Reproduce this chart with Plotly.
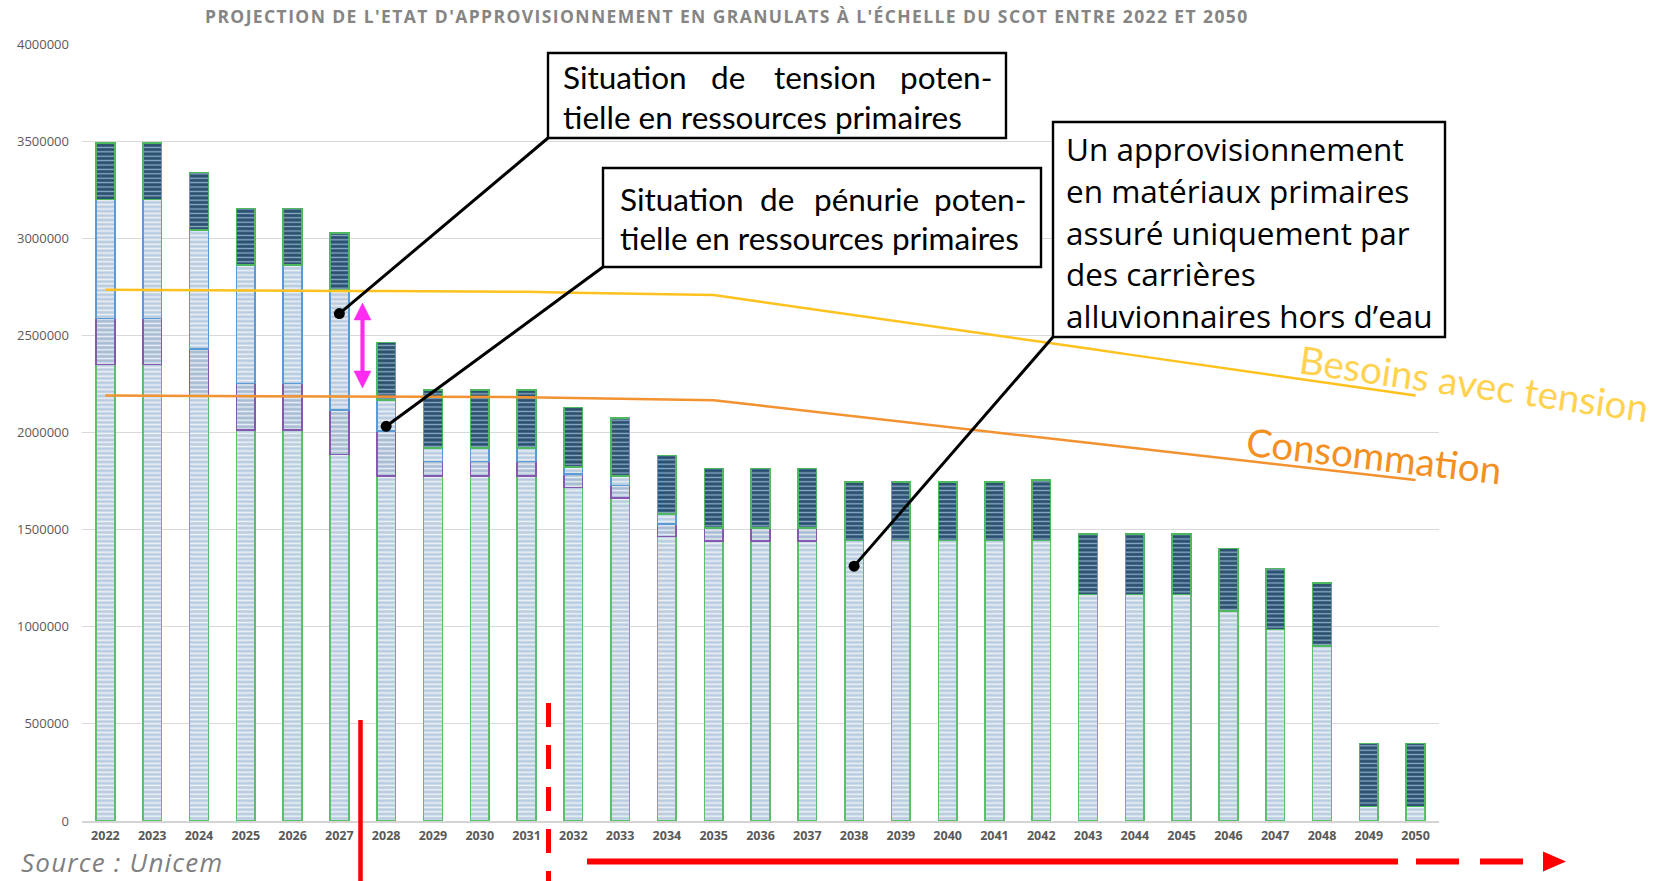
import plotly.graph_objects as go

# ---- données (t/an) -------------------------------------------------------
annees = ["2022", "2023", "2024", "2025", "2026", "2027", "2028", "2029", "2030", "2031",
          "2032", "2033", "2034", "2035", "2036", "2037", "2038", "2039", "2040", "2041",
          "2042", "2043", "2044", "2045", "2046", "2047", "2048", "2049", "2050"]

carrieres_hors_eau = [2350000, 2350000, 2190000, 2012000, 2012000, 1887000, 1777000, 1777000,
                      1777000, 1777000, 1716000, 1662000, 1464000, 1442000, 1442000, 1442000,
                      1445000, 1445000, 1445000, 1445000, 1445000, 1167000, 1167000, 1167000,
                      1082000, 985000, 902000, 74000, 74000]
carrieres_en_eau = [237000, 237000, 240000, 240000, 240000, 230000, 232000, 73000, 73000, 73000,
                    69000, 65000, 65000, 67000, 67000, 67000, 0, 0, 0, 0, 0, 0, 0, 0, 0, 0, 0, 0, 0]
roches_massives = [612000, 612000, 614000, 610000, 610000, 617000, 159000, 69000, 69000, 69000,
                   36000, 50000, 53000, 0, 0, 0, 0, 0, 0, 0, 0, 0, 0, 0, 0, 0, 0, 0, 0]
recyclage = [292000, 292000, 295000, 292000, 292000, 292000, 296000, 299000, 299000, 299000,
             308000, 299000, 300000, 305000, 305000, 305000, 300000, 300000, 300000, 300000,
             309000, 310000, 310000, 310000, 321000, 315000, 323000, 326000, 326000]

besoins_tension = [2735000, 2733000, 2732000, 2731000, 2730000, 2729000, 2728000, 2727000,
                   2726000, 2724000, 2720000, 2716000, 2712000, 2708000, 2673000, 2639000,
                   2604000, 2570000, 2535000, 2501000, 2466000, 2432000, 2397000, 2363000,
                   2328000, 2294000, 2259000, 2225000, 2190000]
consommation = [2190000, 2189000, 2188000, 2188000, 2187000, 2187000, 2186000, 2185000,
                2184000, 2182000, 2178000, 2174000, 2170000, 2166000, 2139000, 2111000,
                2084000, 2056000, 2029000, 2002000, 1974000, 1947000, 1919000, 1892000,
                1865000, 1837000, 1810000, 1782000, 1755000]

y_ticks = [0, 500000, 1000000, 1500000, 2000000, 2500000, 3000000, 3500000, 4000000]

# points signalés par les encadrés : (index de l'année, valeur)
points_signales = [(5, 2612000), (6, 2032000), (16, 1312000)]

# ---- mise en page --------------------------------------------------------
W, H = 1668, 881
L, R, T, B = 82, 1439, 44, 821
Y_MAX = 4000000


def px(x):
    return (x - L) / (R - L)


def py(y):
    return (B - y) / (B - T)


def x_data(xpix):
    return (xpix - L) / (R - L) * len(annees) - 0.5


def y_data(ypix):
    return (B - ypix) / (B - T) * Y_MAX


def nz(vals):
    return [v if v else None for v in vals]


fig = go.Figure()

LIGHT = "#BACDE0"
STRIPE_LIGHT = dict(shape="-", fillmode="overlay", fgcolor="#FFFFFF", fgopacity=0.75,
                    size=4.4, solidity=0.35)

segments = [
    ("Carrières alluvionnaires hors d'eau", carrieres_hors_eau, LIGHT, "#5CBF6A", STRIPE_LIGHT),
    ("Carrières en eau", carrieres_en_eau, "#A7BCD2", "#8459AE", STRIPE_LIGHT),
    ("Roches massives", roches_massives, LIGHT, "#5B9BD5", STRIPE_LIGHT),
    ("Matériaux recyclés", recyclage, "#2A5171", "#4DB85E",
     dict(shape="-", fillmode="overlay", fgcolor="#A9C2D8", fgopacity=0.8, size=4.4, solidity=0.3)),
]
for name, vals, col, border, pat in segments:
    fig.add_trace(go.Bar(
        x=annees, y=nz(vals), name=name,
        marker=dict(color=col, line=dict(color=border, width=1.6), pattern=pat),
    ))

fig.add_trace(go.Scatter(x=annees, y=besoins_tension, mode="lines", name="Besoins avec tension",
                         line=dict(color="#FFC11E", width=2.5)))
fig.add_trace(go.Scatter(x=annees, y=consommation, mode="lines", name="Consommation",
                         line=dict(color="#F39231", width=2.5)))

shapes = []
annotations = []

# encadrés
boxes = [(548, 53, 1006, 138), (603, 168, 1041, 267), (1053, 122, 1445, 337)]
for x0, y0, x1, y1 in boxes:
    shapes.append(dict(type="rect", xref="paper", yref="paper",
                       x0=px(x0), x1=px(x1), y0=py(y0), y1=py(y1),
                       fillcolor="white", line=dict(color="black", width=2.4), layer="above"))

# traits de rappel et points
for (bx, by), (ix, val) in zip([(548, 138), (603, 267), (1053, 337)], points_signales):
    shapes.append(dict(type="line", xref="x", yref="y",
                       x0=x_data(bx), y0=y_data(by), x1=ix, y1=val,
                       line=dict(color="black", width=3)))
    shapes.append(dict(type="circle", xref="x", yref="y", xsizemode="pixel", ysizemode="pixel",
                       xanchor=ix, yanchor=val, x0=-5.5, x1=5.5, y0=-5.5, y1=5.5,
                       fillcolor="black", line=dict(color="black", width=0)))

# double flèche magenta
ax, top, bot, hw, sw, hl = 362.5, 303, 388, 8.5, 1.8, 17
pts = [(ax, top), (ax + hw, top + hl), (ax + sw, top + hl), (ax + sw, bot - hl), (ax + hw, bot - hl),
       (ax, bot), (ax - hw, bot - hl), (ax - sw, bot - hl), (ax - sw, top + hl), (ax - hw, top + hl)]
path = "M " + " L ".join(f"{px(a):.5f},{py(b):.5f}" for a, b in pts) + " Z"
shapes.append(dict(type="path", xref="paper", yref="paper", path=path,
                   fillcolor="#FF2BF0", line=dict(color="#FF2BF0", width=0.5)))

# repères rouges
RED = "#FF0000"
shapes.append(dict(type="line", xref="paper", yref="paper", x0=px(360.5), x1=px(360.5),
                   y0=py(720), y1=py(881), line=dict(color=RED, width=4.5)))
shapes.append(dict(type="line", xref="paper", yref="paper", x0=px(548.5), x1=px(548.5),
                   y0=py(703), y1=py(881), line=dict(color=RED, width=5, dash="24px,18px")))
shapes.append(dict(type="line", xref="paper", yref="paper", x0=px(587), x1=px(1398),
                   y0=py(861.5), y1=py(861.5), line=dict(color=RED, width=6)))
shapes.append(dict(type="line", xref="paper", yref="paper", x0=px(1416), x1=px(1540),
                   y0=py(861.5), y1=py(861.5), line=dict(color=RED, width=6, dash="43px,21px")))
head = [(1543, 851.5), (1566, 861.5), (1543, 871.5)]
shapes.append(dict(type="path", xref="paper", yref="paper",
                   path="M " + " L ".join(f"{px(a):.5f},{py(b):.5f}" for a, b in head) + " Z",
                   fillcolor=RED, line=dict(color=RED, width=0)))


def text(x, y, s, size, font="Lato", color="black", xanchor="left", angle=0, style="normal",
         weight="normal"):
    annotations.append(dict(xref="paper", yref="paper", x=px(x), y=py(y), text=s,
                            showarrow=False, xanchor=xanchor, yanchor="middle", textangle=angle,
                            font=dict(family=font, size=size, color=color, style=style,
                                      weight=weight)))


# titre (lettres espacées)
text(727, 16,
     "<span style='letter-spacing:1.4px'>PROJECTION DE L'ETAT D'APPROVISIONNEMENT EN GRANULATS "
     "À L'ÉCHELLE DU SCOT ENTRE 2022 ET 2050</span>",
     17.5, font="Open Sans", color="#858585", xanchor="center", weight="bold")

# encadré 1 (texte justifié)
BS = 31.5
text(561, 77, "Situation", BS)
text(728, 77, "de", BS, xanchor="center")
text(825, 77, "tension", BS, xanchor="center")
text(994, 77, "poten-", BS, xanchor="right")
text(561, 117, "tielle en ressources primaires", BS)
# encadré 2
text(618, 199, "Situation", BS)
text(777, 199, "de", BS, xanchor="center")
text(866, 199, "pénurie", BS, xanchor="center")
text(1028, 199, "poten-", BS, xanchor="right")
text(618, 238, "tielle en ressources primaires", BS)
# encadré 3
lignes = ["Un approvisionnement", "en matériaux primaires", "assuré uniquement par",
          "des carrières", "alluvionnaires hors d\u2019eau"]
for i, l in enumerate(lignes):
    text(1064, 149 + 41.5 * i, l, 31.5, font="Open Sans")

# étiquettes des courbes
text(1474, 383, "Besoins avec tension", 38.5, color="#FFD24F", xanchor="center", angle=8)
text(1374, 455, "Consommation", 38.5, color="#F3901F", xanchor="center", angle=6.5)

# source
text(19, 862, "<span style='letter-spacing:1.2px'>Source : Unicem</span>", 26,
     font="Open Sans", color="#7F7F7F", style="italic")

fig.update_layout(
    width=W, height=H, autosize=False,
    margin=dict(l=L, r=W - R, t=T, b=H - B, pad=0),
    paper_bgcolor="white", plot_bgcolor="white",
    barmode="stack", bargap=0.6, showlegend=False,
    shapes=shapes, annotations=annotations,
    font=dict(family="Open Sans", color="#595959"),
)
fig.update_xaxes(type="category", showgrid=False, showline=True, linecolor="#D4D4D4", linewidth=2,
                 ticks="", tickfont=dict(size=12.5, color="#595959", weight="bold"),
                 ticklabelstandoff=2, range=[-0.5, len(annees) - 0.5])
fig.update_yaxes(range=[0, Y_MAX], tickvals=y_ticks, tickformat="d", showgrid=True,
                 gridcolor="#D9D9D9", gridwidth=1, zeroline=False, showline=False,
                 tickfont=dict(size=13, color="#595959"), ticklabelstandoff=12)

fig.write_html("out.html")
